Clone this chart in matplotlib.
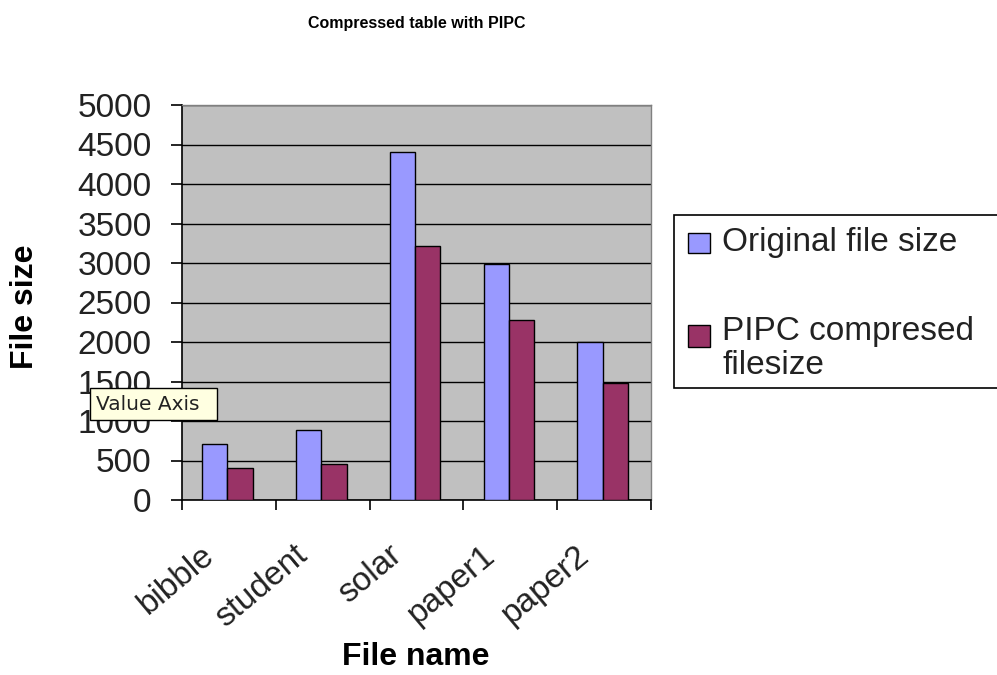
import matplotlib
matplotlib.use("Agg")
import matplotlib.pyplot as plt
import numpy as np
from matplotlib.patches import Rectangle
from matplotlib.transforms import ScaledTranslation

# ---- data ----
categories = ["bibble", "student", "solar", "paper1", "paper2"]
original_size = [710, 890, 4410, 2990, 2000]
pipc_size = [400, 455, 3215, 2280, 1480]
yticks = [0, 500, 1000, 1500, 2000, 2500, 3000, 3500, 4000, 4500, 5000]
series_names = ["Original file size", "PIPC compresed\nfilesize"]
title = "Compressed table with PIPC"
xlabel = "File name"
ylabel = "File size"

W, H = 997, 675
DPI = 100
plt.rcParams['font.family'] = ['Liberation Sans', 'DejaVu Sans']

fig = plt.figure(figsize=(W / DPI, H / DPI), dpi=DPI)
fig.patch.set_facecolor("white")

def fx(px):
    return px / W

def fy(py):
    return 1 - py / H

ax = fig.add_axes([fx(182), fy(500), fx(651) - fx(182), fy(105) - fy(500)])
ax.set_facecolor("#C0C0C0")

x = np.arange(len(categories))
bw = 0.27
c_orig = "#9999FF"
c_pipc = "#993366"
ax.bar(x - 0.15, original_size, width=bw, color=c_orig, edgecolor="black", linewidth=1.0, zorder=3)
ax.bar(x + 0.12, pipc_size, width=bw, color=c_pipc, edgecolor="black", linewidth=1.0, zorder=3)

ax.set_xlim(-0.5, len(categories) - 0.5)
ax.set_ylim(0, 5000)
ax.set_yticks(yticks)
ax.set_yticklabels([str(v) for v in yticks], fontsize=24, color="#222222")
ax.yaxis.grid(True, color="black", linewidth=1.0, zorder=1)
ax.set_axisbelow(True)
ax.tick_params(axis="y", direction="out", length=8, width=1.2, pad=14, color="black")

# x: labels at centers, tick marks at boundaries
ax.set_xticks(x)
ax.set_xticklabels(categories, fontsize=24, rotation=40, ha="right", va="center",
                   rotation_mode="anchor", color="#222222")
ax.tick_params(axis="x", which="major", length=0, pad=37)
ax.set_xticks(np.arange(len(categories) + 1) - 0.5, minor=True)
ax.tick_params(axis="x", which="minor", direction="out", length=7.5, width=1.2, color="black")
offset = ScaledTranslation(-19 / DPI, 0, fig.dpi_scale_trans)
for lab in ax.get_xticklabels():
    lab.set_transform(lab.get_transform() + offset)

for s in ["left", "bottom"]:
    ax.spines[s].set_color("black")
    ax.spines[s].set_linewidth(1.2)
for s in ["top", "right"]:
    ax.spines[s].set_color("#808080")
    ax.spines[s].set_linewidth(1.0)

# titles
fig.text(fx(417), fy(28), title, ha="center", va="baseline", fontsize=11.5, fontweight="bold")
fig.text(fx(416), fy(657), xlabel, ha="center", va="center", fontsize=23, fontweight="bold")
fig.text(fx(25), fy(307), ylabel, ha="center", va="center", fontsize=23, fontweight="bold", rotation=90)

# legend (manual, to match layout)
fig.add_artist(Rectangle((fx(674), fy(388)), fx(1010) - fx(674), fy(215) - fy(388),
                         transform=fig.transFigure, fill=True, facecolor="white",
                         edgecolor="black", linewidth=1.2, clip_on=False))
fig.add_artist(Rectangle((fx(688), fy(253)), fx(22), fy(233) - fy(253),
                         transform=fig.transFigure, facecolor=c_orig, edgecolor="black", linewidth=1.0))
fig.add_artist(Rectangle((fx(688), fy(347)), fx(22), fy(325) - fy(347),
                         transform=fig.transFigure, facecolor=c_pipc, edgecolor="black", linewidth=1.0))
fig.text(fx(722), fy(243), series_names[0], ha="left", va="center", fontsize=24, color="#222222")
fig.text(fx(722), fy(348.5), series_names[1], ha="left", va="center", fontsize=24,
         linespacing=1.1, color="#222222")

# tooltip artifact "Value Axis"
fig.add_artist(Rectangle((fx(90), fy(420)), fx(127), fy(388) - fy(420),
                         transform=fig.transFigure, facecolor="#FFFFE1", edgecolor="black",
                         linewidth=1.0, zorder=5))
fig.text(fx(96), fy(404), "Value Axis", ha="left", va="center", fontsize=14.5,
         family="DejaVu Sans", color="#222222", zorder=6)

fig.savefig("out.png", dpi=DPI)
